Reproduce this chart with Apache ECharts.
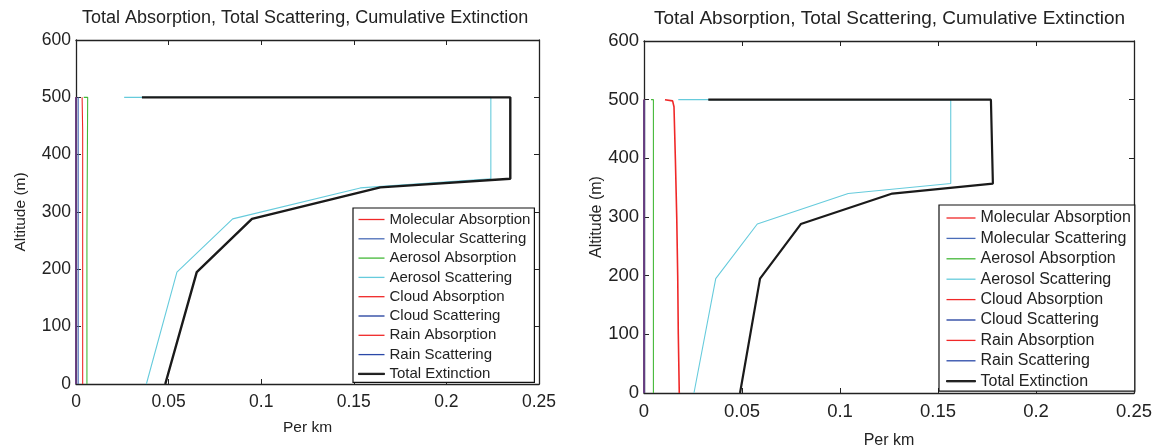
<!DOCTYPE html>
<html>
<head>
<meta charset="utf-8">
<script src="https://cdn.jsdelivr.net/npm/echarts@6/dist/echarts.min.js"></script>
<style>
  html, body { margin: 0; padding: 0; background: #fff; }
  #chart { width: 1156px; height: 447px; }
</style>
</head>
<body>
<div id="chart"></div>
<script>
// series names, legend order
const names = ['Molecular Absorption', 'Molecular Scattering', 'Aerosol Absorption', 'Aerosol Scattering',
  'Cloud Absorption', 'Cloud Scattering', 'Rain Absorption', 'Rain Scattering', 'Total Extinction']
const colors = ['#f02828', '#4a6cb8', '#44b838', '#66cbdc', '#f02828', '#1e3c9c', '#f02828', '#2a48a8', '#1a1a1a']
const xTicks = [0, 0.05, 0.1, 0.15, 0.2, 0.25]
const yTicks = [0, 100, 200, 300, 400, 500, 600]

// left panel: value (per km) and altitude (m) for each curve
const leftMolAbsX = [0.0036, 0.0036, 0.0033, 0.0033]
const leftMolAbsY = [0, 443, 445, 500]
const leftMolScaX = [0.0012, 0.0012]
const leftMolScaY = [0, 500]
const leftAerAbsX = [0.0059, 0.0059, 0.0063, 0.0063, 0.0042]
const leftAerAbsY = [0, 250, 253, 500, 500]
const leftAerScaX = [0.038, 0.0545, 0.0846, 0.1535, 0.224, 0.224, 0.026]
const leftAerScaY = [0, 195, 288, 342, 358, 500, 500]
const leftZeroX = [0, 0]
const leftZeroY = [0, 500]
const leftTotalX = [0.0482, 0.0652, 0.095, 0.1643, 0.2345, 0.2345, 0.0356]
const leftTotalY = [0, 195, 288, 343, 358, 500, 500]

// right panel
const rightMolAbsX = [0.0180, 0.0175, 0.0172, 0.0167, 0.0160, 0.0153, 0.0146, 0.0107]
const rightMolAbsY = [0, 100, 200, 300, 400, 488, 498, 500]
const rightMolScaX = [0.0003, 0.0003]
const rightMolScaY = [0, 500]
const rightAerAbsX = [0.0048, 0.0048, 0.0036]
const rightAerAbsY = [0, 500, 500]
const rightAerScaX = [0.0255, 0.0366, 0.0578, 0.1042, 0.1565, 0.1565, 0.0175]
const rightAerScaY = [0, 195, 288, 340, 357, 500, 500]
const rightZeroX = [0, 0]
const rightZeroY = [0, 500]
const rightTotalX = [0.049, 0.0592, 0.080, 0.1267, 0.178, 0.177, 0.0328]
const rightTotalY = [0, 195, 288, 340, 357, 500, 500]

const leftCurves = [
  [leftMolAbsX, leftMolAbsY], [leftMolScaX, leftMolScaY], [leftAerAbsX, leftAerAbsY], [leftAerScaX, leftAerScaY],
  [leftZeroX, leftZeroY], [leftZeroX, leftZeroY], [leftZeroX, leftZeroY], [leftZeroX, leftZeroY], [leftTotalX, leftTotalY]
]
const rightCurves = [
  [rightMolAbsX, rightMolAbsY], [rightMolScaX, rightMolScaY], [rightAerAbsX, rightAerAbsY], [rightAerScaX, rightAerScaY],
  [rightZeroX, rightZeroY], [rightZeroX, rightZeroY], [rightZeroX, rightZeroY], [rightZeroX, rightZeroY], [rightTotalX, rightTotalY]
]

const font = 'Liberation Sans, Arial, sans-serif'
const ink = '#222'

function pairs(xs, ys) {
  return xs.map((x, i) => [x, ys[i]])
}

function makeAxes(grid, s) {
  // MATLAB style box: ticks inside on all four sides
  let line = { show: true, onZero: false, lineStyle: { color: ink, width: 1.3 } }
  let tick = { show: true, inside: true, length: 5, lineStyle: { color: ink, width: 1 } }
  let xs = [
    {
      type: 'value', gridIndex: grid, min: xTicks[0], max: xTicks[xTicks.length - 1], interval: 0.05,
      axisLine: line, axisTick: tick, splitLine: { show: false },
      axisLabel: { color: ink, fontSize: s.tick, fontFamily: font, margin: s.xMargin },
      name: 'Per km', nameLocation: 'middle', nameGap: s.xNameGap,
      nameTextStyle: { color: ink, fontSize: s.name, fontFamily: font }
    },
    {
      type: 'value', gridIndex: grid, position: 'top', min: 0, max: 0.25, interval: 0.05,
      axisLine: line, axisTick: tick, splitLine: { show: false }, axisLabel: { show: false }
    }
  ]
  let ys = [
    {
      type: 'value', gridIndex: grid, min: yTicks[0], max: yTicks[yTicks.length - 1], interval: 100,
      axisLine: line, axisTick: tick, splitLine: { show: false },
      axisLabel: { color: ink, fontSize: s.tick, fontFamily: font, margin: 5 },
      name: 'Altitude (m)', nameLocation: 'middle', nameGap: s.yNameGap,
      nameTextStyle: { color: ink, fontSize: s.name, fontFamily: font }
    },
    {
      type: 'value', gridIndex: grid, position: 'right', min: 0, max: 600, interval: 100,
      axisLine: line, axisTick: tick, splitLine: { show: false }, axisLabel: { show: false }
    }
  ]
  return { xs, ys }
}

const L = makeAxes(0, { tick: 17.5, name: 15.5, xMargin: 9, xNameGap: 36, yNameGap: 47 })
const R = makeAxes(1, { tick: 18.5, name: 16, xMargin: 9, xNameGap: 40, yNameGap: 39 })

let series = []
leftCurves.forEach((c, i) => {
  series.push({
    name: names[i], type: 'line', xAxisIndex: 0, yAxisIndex: 0, symbol: 'none',
    data: pairs(c[0], c[1]), color: colors[i],
    lineStyle: { color: colors[i], width: i === 8 ? 2.4 : 1.1 }
  })
})
rightCurves.forEach((c, i) => {
  series.push({
    name: names[i], type: 'line', xAxisIndex: 2, yAxisIndex: 2, symbol: 'none',
    data: pairs(c[0], c[1]), color: colors[i],
    lineStyle: { color: colors[i], width: i === 8 ? 2.2 : (i === 0 ? 1.6 : 1.1) }
  })
})

// legend items: thin line icons, thicker one for the total
let legendData = names.map((n, i) => i === 8
  ? { name: n, itemStyle: { color: colors[i], borderColor: colors[i], borderWidth: 1 } }
  : { name: n, itemStyle: { color: colors[i], borderWidth: 0 } })

let myChart = echarts.init(document.getElementById('chart'))
let option = {
  animation: false,
  backgroundColor: '#fff',
  title: [
    { text: 'Total Absorption, Total Scattering, Cumulative Extinction', left: 82, top: 9, padding: 0,
      textStyle: { color: ink, fontSize: 18, fontWeight: 'normal', fontFamily: font } },
    { text: 'Total Absorption, Total Scattering, Cumulative Extinction', left: 654, top: 9, padding: 0,
      textStyle: { color: ink, fontSize: 19, fontWeight: 'normal', fontFamily: font } }
  ],
  grid: [
    { left: 76, right: 617, top: 40, bottom: 63, outerBoundsMode: 'none' },
    { left: 644, right: 22, top: 41, bottom: 54, outerBoundsMode: 'none' }
  ],
  xAxis: [...L.xs, ...R.xs],
  yAxis: [...L.ys, ...R.ys],
  legend: [
    {
      data: legendData, orient: 'vertical', left: 353, top: 208, padding: [4, 4, 1, 5],
      icon: 'rect', itemGap: 4.3, itemWidth: 26, itemHeight: 1.3, selectedMode: false,
      backgroundColor: '#fff', borderColor: '#111', borderWidth: 1.2,
      textStyle: { color: ink, fontSize: 15, fontFamily: font }
    },
    {
      data: legendData, orient: 'vertical', left: 939, top: 205, padding: [5, 4, 2, 7],
      icon: 'rect', itemGap: 4.4, itemWidth: 29, itemHeight: 1.3, selectedMode: false,
      backgroundColor: '#fff', borderColor: '#111', borderWidth: 1.2,
      textStyle: { color: ink, fontSize: 16, fontFamily: font }
    }
  ],
  series: series
}
myChart.setOption(option)
</script>
</body>
</html>
